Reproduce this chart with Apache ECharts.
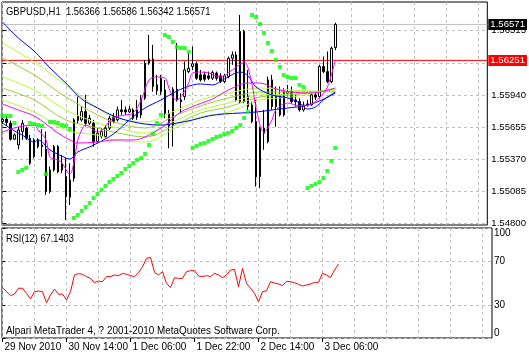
<!DOCTYPE html>
<html><head><meta charset="utf-8">
<script src="https://cdn.jsdelivr.net/npm/echarts@6/dist/echarts.min.js"></script>
<style>html,body{margin:0;padding:0;background:#fff;overflow:hidden}#c{width:529px;height:355px}</style>
</head><body><div id="c"></div>
<script>
// ---------- data ----------
const symbolName = 'GBPUSD,H1';
const lastOHLC = ['1.56366', '1.56586', '1.56342', '1.56571'];
const rsiLabel = 'RSI(12) 67.1403';
const watermark = 'Alpari MetaTrader 4, ? 2001-2010 MetaQuotes Software Corp.';
const timeTickIdx = [0, 16, 32, 48, 64, 80];
const timeTickLabels = ['29 Nov 2010', '30 Nov 14:00', '1 Dec 06:00', '1 Dec 22:00', '2 Dec 14:00', '3 Dec 06:00'];
const timeGridIdx = [0, 8, 16, 24, 32, 40, 48, 56, 64, 72, 80, 88, 96, 104, 112, 120];
const priceTicks = [1.54800, 1.55085, 1.55370, 1.55655, 1.55940, 1.56225, 1.56515];
const rsiTicks = [0, 30, 70, 100];
const levelLine = 1.56251;
const bidPrice = 1.56571;

// [open, close, low, high] per H1 bar
const ohlc = [
 [1.55706,1.55727,1.55685,1.55745],[1.55727,1.55697,1.55667,1.55751],[1.55691,1.55549,1.55537,1.55715],
 [1.55549,1.55587,1.55543,1.55602],[1.55498,1.55632,1.55459,1.55661],[1.55617,1.55691,1.55543,1.55721],
 [1.55647,1.55557,1.55543,1.55661],[1.55557,1.55335,1.55320,1.55587],[1.55394,1.55543,1.55379,1.55557],
 [1.55543,1.55483,1.55468,1.55557],[1.55483,1.55498,1.55394,1.55638],[1.55459,1.55082,1.55053,1.55617],
 [1.55082,1.55275,1.55067,1.55305],[1.55275,1.55483,1.55260,1.55498],[1.55483,1.55260,1.55246,1.55498],
 [1.55275,1.55335,1.55246,1.55409],[1.55216,1.55038,1.54830,1.55379],[1.55032,1.55186,1.54963,1.55335],
 [1.55201,1.55721,1.55171,1.55736],[1.55715,1.55756,1.55691,1.55929],[1.55721,1.55795,1.55706,1.55840],
 [1.55795,1.55691,1.55661,1.55944],[1.55691,1.55736,1.55676,1.55765],[1.55691,1.55528,1.55483,1.55721],
 [1.55528,1.55602,1.55513,1.55647],[1.55572,1.55617,1.55557,1.55647],[1.55572,1.55647,1.55557,1.55676],
 [1.55647,1.55736,1.55632,1.55765],[1.55751,1.55706,1.55691,1.55780],[1.55721,1.55810,1.55706,1.55840],
 [1.55810,1.55795,1.55765,1.55899],[1.55810,1.55792,1.55765,1.55840],[1.55792,1.55816,1.55780,1.55846],
 [1.55810,1.55736,1.55721,1.55825],[1.55745,1.55810,1.55721,1.55899],[1.55765,1.55914,1.55736,1.55944],
 [1.55914,1.56226,1.55899,1.56255],[1.56226,1.56261,1.56211,1.56478],[1.56261,1.56018,1.55973,1.56389],
 [1.56033,1.55982,1.55944,1.56122],[1.55973,1.56092,1.55944,1.56122],[1.55988,1.55780,1.55736,1.56077],
 [1.55780,1.55667,1.55468,1.55810],[1.55667,1.55994,1.55483,1.56012],[1.55994,1.55899,1.55884,1.56404],
 [1.55899,1.55884,1.55780,1.55958],[1.55929,1.56166,1.55899,1.56241],[1.56151,1.56181,1.56137,1.56315],
 [1.56196,1.56220,1.56166,1.56374],[1.56220,1.56092,1.56077,1.56241],[1.56122,1.56077,1.56062,1.56166],
 [1.56122,1.56083,1.56062,1.56151],[1.56113,1.56092,1.56077,1.56151],[1.56092,1.56143,1.56077,1.56160],
 [1.56137,1.56092,1.56071,1.56151],[1.56113,1.56062,1.56048,1.56137],[1.56062,1.56113,1.56048,1.56131],
 [1.56107,1.56270,1.56092,1.56285],[1.56270,1.56300,1.56211,1.56330],[1.56300,1.55899,1.55884,1.56330],
 [1.55884,1.56508,1.55869,1.56656],[1.56508,1.55884,1.55869,1.56523],[1.55929,1.55840,1.55810,1.56166],
 [1.55854,1.55706,1.55691,1.55884],[1.55706,1.55216,1.55127,1.55899],[1.55216,1.55647,1.55112,1.55661],
 [1.55602,1.55647,1.55454,1.55810],[1.55528,1.56077,1.55513,1.56107],[1.56077,1.55840,1.55810,1.56122],
 [1.55929,1.55840,1.55661,1.56018],[1.55944,1.55765,1.55751,1.56018],[1.55765,1.55973,1.55751,1.56003],
 [1.55958,1.55973,1.55929,1.56033],[1.55973,1.55884,1.55869,1.56018],[1.55899,1.55884,1.55840,1.55944],
 [1.55884,1.55810,1.55795,1.55914],[1.55810,1.55854,1.55795,1.55884],[1.55863,1.55852,1.55840,1.55899],
 [1.55854,1.55944,1.55846,1.55958],[1.55944,1.55923,1.55899,1.55958],[1.55929,1.56196,1.55914,1.56211],
 [1.56196,1.56151,1.56137,1.56285],[1.56151,1.56062,1.56048,1.56330],[1.56062,1.56359,1.56048,1.56374],
 [1.56366,1.56571,1.56342,1.56586]
];

// moving averages read at bar indices: [bar, price]
const maBlueSlow = [[0,1.56593],[4,1.56450],[8,1.56334],[12,1.56183],[16,1.56049],[20,1.55907],[24,1.55827],[28,1.55756],[32,1.55711],[36,1.55684],[40,1.55675],[44,1.55693],[48,1.55720],[52,1.55756],[56,1.55774],[60,1.55782],[64,1.55791],[68,1.55809],[72,1.55827],[76,1.55845],[80,1.55889],[84,1.55960]];
const maBlueMid = [[0,1.55693],[3,1.55622],[5,1.55586],[8,1.55524],[9,1.55542],[12,1.55453],[15,1.55399],[17,1.55373],[19,1.55435],[22,1.55480],[24,1.55515],[28,1.55595],[32,1.55720],[36,1.55827],[40,1.55898],[44,1.55978],[48,1.56032],[50,1.56041],[53,1.56032],[56,1.56085],[60,1.56147],[62,1.56112],[64,1.56014],[68,1.55943],[72,1.55916],[75,1.55871],[77,1.55818],[79,1.55836],[81,1.55898],[84,1.55969]];
const maMagentaSlow = [[0,1.55863],[4,1.55809],[8,1.55756],[11,1.55684],[14,1.55604],[17,1.55542],[19,1.55515],[24,1.55524],[28,1.55542],[33,1.55542],[36,1.55569],[40,1.55649],[42,1.55702],[45,1.55791],[49,1.55854],[53,1.55907],[57,1.55987],[62,1.56049],[65,1.56049],[69,1.55996],[73,1.55969],[78,1.55960],[84,1.56005]];
const maMagentaFast = [[0,1.55613],[4,1.55658],[8,1.55675],[9,1.55631],[11,1.55542],[12,1.55390],[14,1.55364],[15,1.55337],[17,1.55239],[18,1.55337],[19,1.55542],[20,1.55631],[21,1.55675],[24,1.55613],[28,1.55738],[31,1.55765],[33,1.55782],[35,1.55898],[37,1.56076],[39,1.56103],[41,1.56094],[42,1.56005],[43,1.55925],[44,1.55898],[46,1.55978],[47,1.56049],[48,1.56139],[50,1.56147],[52,1.56139],[55,1.56103],[57,1.56139],[59,1.56192],[61,1.56236],[63,1.56032],[64,1.55827],[66,1.55613],[68,1.55720],[69,1.55809],[72,1.55871],[75,1.55845],[78,1.55863],[80,1.55916],[82,1.56014],[84,1.56254]];
const maGreen1 = [[0,1.56406],[8,1.56236],[16,1.56032],[24,1.55827],[28,1.55747],[36,1.55702],[44,1.55809],[50,1.55898],[57,1.55960],[65,1.56005],[73,1.55987],[84,1.55969]];
const maGreen2 = [[0,1.56272],[8,1.56121],[16,1.55925],[24,1.55765],[28,1.55702],[36,1.55649],[44,1.55765],[50,1.55845],[57,1.55916],[65,1.55969],[73,1.55969],[84,1.55978]];
const maGreen3 = [[0,1.56103],[8,1.55987],[16,1.55809],[24,1.55693],[28,1.55658],[36,1.55604],[44,1.55720],[50,1.55809],[57,1.55871],[65,1.55943],[73,1.55952],[84,1.55987]];
const maGreen4 = [[0,1.56005],[8,1.55898],[16,1.55720],[24,1.55649],[28,1.55613],[36,1.55569],[44,1.55684],[50,1.55782],[57,1.55836],[65,1.55925],[73,1.55943],[84,1.55996]];
const maGreen5 = [[0,1.55898],[8,1.55791],[16,1.55631],[24,1.55586],[28,1.55542],[36,1.55524],[44,1.55658],[50,1.55747],[57,1.55791],[65,1.55898],[73,1.55925],[84,1.56005]];

// Parabolic SAR per bar
const sar = [1.55756,1.55756,1.55756,1.55693,1.55257,1.55275,1.55293,1.55693,1.55684,1.55675,
 1.55667,1.55239,1.55702,1.55702,1.55693,1.55675,1.55667,1.55640,1.54847,1.54874,
 1.54910,1.54945,1.54981,1.55025,1.55061,1.55097,1.55132,1.55168,1.55195,1.55221,
 1.55248,1.55284,1.55310,1.55337,1.55364,1.55382,1.55417,1.55497,1.55595,1.55693,
 1.55765,1.56477,1.56459,1.56415,1.56370,1.56361,1.56361,1.56326,1.55471,1.55488,
 1.55506,1.55515,1.55533,1.55551,1.55569,1.55577,1.55595,1.55604,1.55622,1.55649,
 1.55675,1.55738,1.55791,1.56655,1.56637,1.56575,1.56495,1.56406,1.56335,1.56254,
 1.56192,1.56121,1.56103,1.56094,1.56094,1.56032,1.56014,1.55114,1.55132,1.55150,
 1.55168,1.55203,1.55266,1.55355,1.55471];

// RSI(12) per bar
const rsi = [45.8,42.1,38.5,40,45.2,45.2,40.6,35.5,42.1,42.7,
 42.1,32.1,39.1,44.5,39.7,40,34.5,42.1,57.3,58.5,
 57.9,55.8,54.2,50.3,51.8,51.2,55.8,55.8,57.3,56.7,
 58.8,57.9,56.7,55.8,59.4,64.8,72.4,73.3,59.7,57.3,
 60.3,49.7,45.8,54.8,54.2,54.2,60.3,61.2,61.2,56.4,
 55.8,56.7,55.8,58.8,57.3,54.8,57.3,61.8,62.4,46.7,
 63.3,49.7,45.2,40.6,33,42.1,43,51.2,50,49.1,
 47.6,51.5,51.2,50.3,48.8,47.3,48.2,49.1,50.6,50.6,
 58.8,57.3,54.8,61.8,67.14];

// ---------- chart ----------
const FONT = "'Liberation Sans',Arial,sans-serif";
const FS = 10;
const XMIN = -0.125, XMAX = 122.375;
const YMIN = 1.547849, YMAX = 1.567709;
const gridLine = {show: true, lineStyle: {color: '#c0c0c0', type: [3, 3], width: 1}};

const chart = echarts.init(document.getElementById('c'), null, {renderer: 'canvas'});
const lineS = (data, color, z) => ({type: 'line', data, xAxisIndex: 0, yAxisIndex: 0, symbol: 'none', smooth: 0.35,
  lineStyle: {color, width: 1}, z: z || 3, silent: true, animation: false});
const levelS = (value, lineColor, boxColor, z) => ({type: 'line', xAxisIndex: 0, yAxisIndex: 0, symbol: 'none', silent: true, z,
  data: [[XMIN, value], [XMAX, value]], lineStyle: {color: lineColor, width: 1},
  endLabel: {show: true, distance: 1, formatter: value.toFixed(5), color: '#fff', backgroundColor: boxColor,
    padding: [1, 2, 0, 2], fontFamily: FONT, fontSize: 9.6}});

const option = {
  animation: false,
  backgroundColor: '#ffffff',
  textStyle: {fontFamily: FONT, fontSize: FS, color: '#000'},
  grid: [
    {left: 2, top: 2, width: 490, height: 223, show: true, borderColor: '#000', borderWidth: 1, backgroundColor: 'rgba(0,0,0,0)'},
    {left: 2, top: 228, width: 490, height: 110, show: true, borderColor: '#000', borderWidth: 1, backgroundColor: 'rgba(0,0,0,0)'}
  ],
  xAxis: [
    {type: 'value', gridIndex: 0, min: XMIN, max: XMAX, axisLine: {show: false},
     axisTick: {show: false, customValues: timeGridIdx}, axisLabel: {show: false}, splitLine: gridLine},
    {type: 'value', gridIndex: 1, min: XMIN, max: XMAX, axisLine: {show: false},
     axisTick: {show: false, customValues: timeGridIdx}, axisLabel: {show: false}, splitLine: gridLine},
    {type: 'value', gridIndex: 1, min: XMIN, max: XMAX, position: 'bottom', axisLine: {show: false},
     axisTick: {show: true, customValues: timeTickIdx, length: 4, lineStyle: {color: '#000'}},
     axisLabel: {show: true, customValues: timeTickIdx, align: 'left', margin: 4, padding: [0, 0, 0, 2],
       fontFamily: FONT, fontSize: FS, color: '#000',
       formatter: v => timeTickLabels[timeTickIdx.indexOf(Math.round(v))] || ''},
     splitLine: {show: false}}
  ],
  yAxis: [
    {type: 'value', gridIndex: 0, min: YMIN, max: YMAX, position: 'right', axisLine: {show: false},
     axisTick: {show: true, customValues: priceTicks, length: 4, lineStyle: {color: '#000'}},
     axisLabel: {show: true, customValues: priceTicks, margin: 4, fontFamily: FONT, fontSize: 9.6, color: '#000',
       formatter: v => v.toFixed(5)},
     splitLine: gridLine},
    {type: 'value', gridIndex: 1, min: 0, max: 100, position: 'right', axisLine: {show: false},
     axisTick: {show: true, customValues: rsiTicks, length: 3, lineStyle: {color: '#000'}},
     axisLabel: {show: true, customValues: rsiTicks, margin: 2, fontFamily: FONT, fontSize: FS, color: '#000',
       verticalAlignMaxLabel: 'top', verticalAlignMinLabel: 'bottom'},
     splitLine: gridLine}
  ],
  graphic: [
    {type: 'text', x: 6, y: 6, scaleX: 0.86, z: 100, silent: true,
     style: {text: symbolName + '  ' + lastOHLC.join(' '), font: '11px ' + FONT, fill: '#000'}},
    {type: 'text', x: 6, y: 233, scaleX: 0.84, z: 100, silent: true,
     style: {text: rsiLabel, font: '11px ' + FONT, fill: '#000'}},
    {type: 'text', x: 6, y: 325, scaleX: 0.9, z: 100, silent: true,
     style: {text: watermark, font: '11px ' + FONT, fill: '#000'}}
  ],
  series: [
    levelS(bidPrice, '#c0c0c0', '#000000', 1),
    levelS(levelLine, '#ff0000', '#ff0000', 1),
    {type: 'candlestick', xAxisIndex: 0, yAxisIndex: 0, barWidth: 2, z: 2,
     data: ohlc.map((d, i) => [i, d[0], d[1], d[2], d[3]]),
     encode: {x: 0, y: [1, 2, 3, 4]},
     itemStyle: {color: '#ffffff', color0: '#000000', borderColor: '#000000', borderColor0: '#000000', borderWidth: 1}},
    lineS(maGreen1, '#adff2f'), lineS(maGreen2, '#9acd32'), lineS(maGreen3, '#adff2f'),
    lineS(maGreen4, '#9acd32'), lineS(maGreen5, '#adff2f'),
    lineS(maBlueSlow, '#0000ff', 4), lineS(maBlueMid, '#0000ff', 4),
    lineS(maMagentaSlow, '#ff00ff', 4), lineS(maMagentaFast, '#ff00ff', 4),
    {type: 'scatter', xAxisIndex: 0, yAxisIndex: 0, symbol: 'rect', symbolSize: 4, z: 5, silent: true,
     itemStyle: {color: '#00ff00'}, data: sar.map((v, i) => [i, v])},
    {type: 'line', xAxisIndex: 1, yAxisIndex: 1, symbol: 'none', silent: true,
     lineStyle: {color: '#ff0000', width: 1}, data: rsi.map((v, i) => [i, v])}
  ]
};
chart.setOption(option);
</script>
</body></html>
